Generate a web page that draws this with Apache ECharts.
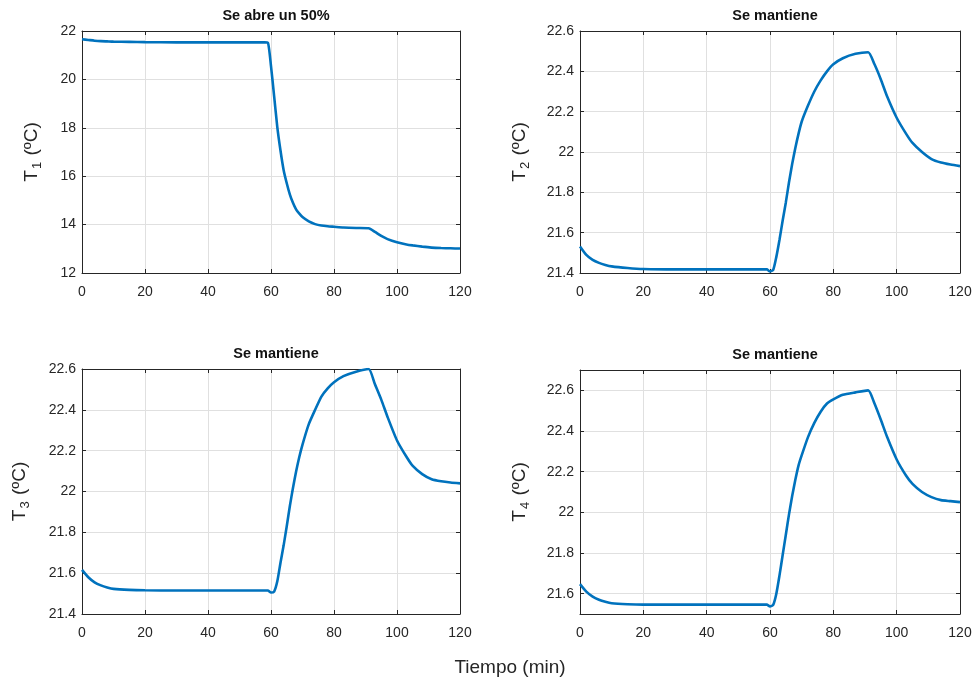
<!DOCTYPE html>
<html><head><meta charset="utf-8">
<script src="https://cdn.jsdelivr.net/npm/echarts@6/dist/echarts.min.js"></script>
<style>html,body{margin:0;padding:0;background:#fff}#c{width:978px;height:682px}</style>
</head><body><div id="c"></div>
<script>
const time = [0,2,4,6,8,10,15,20,30,40,50,58,59,60,61,62,63,64,65,66,67,68,69,70,72,74,76,78,80,83,87,91,93,95,97,100,103,105,108,111,114,117,120];
const T1 = [21.66,21.63,21.6,21.58,21.57,21.56,21.55,21.54,21.53,21.53,21.53,21.53,21.52,20.55,19.3,18.03,17.07,16.26,15.71,15.24,14.89,14.62,14.45,14.31,14.13,14.02,13.96,13.93,13.91,13.88,13.86,13.85,13.7,13.53,13.4,13.27,13.18,13.14,13.09,13.05,13.03,13.02,13.01];
const T2 = [21.532,21.49,21.465,21.45,21.44,21.433,21.425,21.42,21.418,21.418,21.418,21.418,21.418,21.408,21.415,21.48,21.565,21.66,21.75,21.85,21.94,22.02,22.09,22.15,22.23,22.3,22.355,22.4,22.435,22.465,22.487,22.495,22.435,22.36,22.275,22.17,22.09,22.045,22.0,21.965,21.948,21.938,21.93];
const T3 = [21.616,21.58,21.555,21.54,21.53,21.523,21.518,21.516,21.515,21.515,21.515,21.515,21.515,21.505,21.51,21.56,21.65,21.735,21.83,21.93,22.02,22.1,22.17,22.23,22.33,22.4,22.465,22.505,22.535,22.565,22.587,22.6,22.525,22.45,22.365,22.25,22.17,22.125,22.085,22.06,22.05,22.044,22.04];
const T4 = [21.647,21.61,21.585,21.57,21.56,21.553,21.548,21.546,21.546,21.546,21.546,21.546,21.546,21.537,21.545,21.6,21.69,21.79,21.89,21.99,22.08,22.16,22.23,22.28,22.37,22.44,22.495,22.535,22.555,22.578,22.59,22.6,22.535,22.455,22.37,22.26,22.18,22.14,22.1,22.075,22.06,22.055,22.05];
const titles = ['Se abre un 50%','Se mantiene','Se mantiene','Se mantiene'];
const yNames = ['1','2','3','4'];
const yRanges = [[12,22,2],[21.4,22.6,0.2],[21.4,22.6,0.2],[21.5,22.7,0.2]];
const y4Ticks = [21.6,21.8,22.0,22.2,22.4,22.6];
const xLabel = 'Tiempo (min)';

const grids = [
  {left:82, top:31, width:378, height:242},
  {left:580, top:31, width:380, height:242},
  {left:82, top:369, width:378, height:245},
  {left:580, top:370, width:380, height:244}
];
const nameGaps = [38, 48, 50, 48];
const series = [T1,T2,T3,T4];
const axCol = '#262626';
const font = 'Liberation Sans, Arial, sans-serif';

const xAxis = [], yAxis = [], ser = [], title = [];
grids.forEach((g,i)=>{
  xAxis.push({type:'value', gridIndex:i, min:0, max:120, interval:20, position:'bottom',
    axisLine:{show:true, onZero:false, lineStyle:{color:axCol, width:1}},
    axisTick:{show:true, inside:true, length:4, lineStyle:{color:axCol}},
    axisLabel:{color:axCol, fontSize:14, fontFamily:font, margin:12},
    splitLine:{show:true, lineStyle:{color:'#e0e0e0', width:1}}});
  xAxis.push({type:'value', gridIndex:i, min:0, max:120, interval:20, position:'top',
    axisLine:{show:true, onZero:false, lineStyle:{color:axCol, width:1}},
    axisTick:{show:true, inside:true, length:4, lineStyle:{color:axCol}},
    axisLabel:{show:false}, splitLine:{show:false}});
  const r = yRanges[i];
  const yl = {type:'value', gridIndex:i, min:r[0], max:r[1], interval:r[2], position:'left',
    axisLine:{show:true, onZero:false, lineStyle:{color:axCol, width:1}},
    axisTick:{show:true, inside:true, length:4, lineStyle:{color:axCol}},
    axisLabel:{color:axCol, fontSize:14, fontFamily:font, margin:6},
    splitLine:{show:true, lineStyle:{color:'#e0e0e0', width:1}},
    name:'{a|T}{s|'+yNames[i]+'}{a| (ºC)}', nameLocation:'middle', nameGap:nameGaps[i],
    nameTextStyle:{color:axCol, fontFamily:font, rich:{a:{fontSize:19, fontFamily:font, color:axCol}, s:{fontSize:13, fontFamily:font, color:axCol, padding:[12,1,0,1]}}}};
  const yr = {type:'value', gridIndex:i, min:r[0], max:r[1], interval:r[2], position:'right',
    axisLine:{show:true, onZero:false, lineStyle:{color:axCol, width:1}},
    axisTick:{show:true, inside:true, length:4, lineStyle:{color:axCol}},
    axisLabel:{show:false}, splitLine:{show:false}};
  if (i===3) {
    delete yl.interval; delete yr.interval;
    yl.axisLabel.customValues = y4Ticks; yl.axisTick.customValues = y4Ticks;
    yr.axisTick.customValues = y4Ticks;
  }
  yAxis.push(yl, yr);
  ser.push({type:'line', xAxisIndex:2*i, yAxisIndex:2*i, showSymbol:false, symbol:'none', smooth:0.2,
    lineStyle:{color:'#0072BD', width:2.6}, data: time.map((t,k)=>[t, series[i][k]]), clip:true, z:5});
  title.push({text:titles[i], left: g.left + g.width/2, top: g.top - 28, textAlign:'center',
    textStyle:{fontSize:14.5, fontWeight:'bold', color:'#111', fontFamily:font}});
});
title.push({text:xLabel, left:505, top:653, textAlign:'center',
  textStyle:{fontSize:19, fontWeight:'normal', color:axCol, fontFamily:font}});

const chart = echarts.init(document.getElementById('c'), null, {renderer:'canvas'});
chart.setOption({animation:false, backgroundColor:'#fff', title, grid:grids, xAxis, yAxis, series:ser});
</script></body></html>
